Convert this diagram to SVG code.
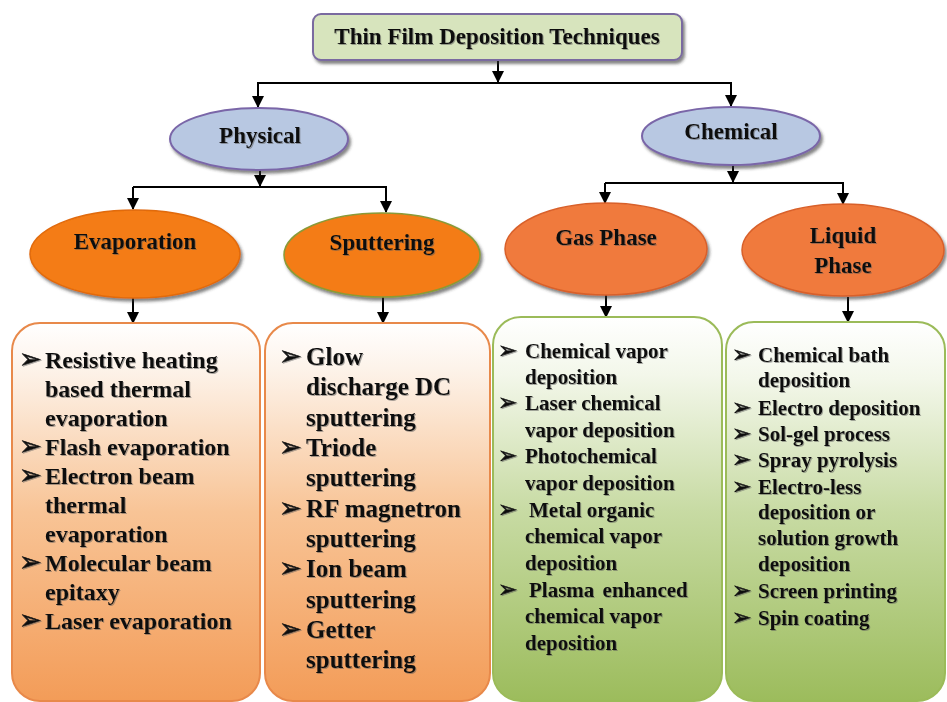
<svg xmlns="http://www.w3.org/2000/svg" width="947" height="702" viewBox="0 0 947 702">
  <defs>
    <marker id="arr" markerUnits="userSpaceOnUse" markerWidth="12" markerHeight="12" refX="11" refY="6" orient="auto">
      <path d="M0,0 L12,6 L0,12 z" fill="#000"/>
    </marker>
    <linearGradient id="gOr" x1="0" y1="0" x2="0" y2="1">
      <stop offset="0" stop-color="#ffffff"/>
      <stop offset="0.12" stop-color="#fdf3ea"/>
      <stop offset="0.5" stop-color="#f8c496"/>
      <stop offset="1" stop-color="#f39c58"/>
    </linearGradient>
    <linearGradient id="gGr" x1="0" y1="0" x2="0" y2="1">
      <stop offset="0" stop-color="#ffffff"/>
      <stop offset="0.15" stop-color="#f3f7ea"/>
      <stop offset="0.5" stop-color="#c8dba4"/>
      <stop offset="1" stop-color="#9cbc5c"/>
    </linearGradient>
    <filter id="sh" x="-10%" y="-10%" width="125%" height="130%">
      <feDropShadow dx="2" dy="3" stdDeviation="1.5" flood-color="#333" flood-opacity="0.6"/>
    </filter>
    <filter id="tsh" x="-5%" y="-20%" width="110%" height="150%">
      <feDropShadow dx="1" dy="1" stdDeviation="0.6" flood-color="#555" flood-opacity="0.5"/>
    </filter>
  </defs>
  <style>
    text { font-family: "Liberation Serif", "Times New Roman", serif; font-weight: bold; fill: #111; }
    .t { font-size: 23px; text-anchor: middle; }
    .e { font-size: 23px; text-anchor: middle; }
    .b1 { font-size: 24px; }
    .b2 { font-size: 25px; }
    .b3 { font-size: 21px; }
    .bul { font-family: "DejaVu Sans", sans-serif; font-weight: bold; stroke: #111; stroke-width: 0.6; }
    .bl { font-size: 27px; }
    .bs { font-size: 23px; }
    .conn { stroke: #000; stroke-width: 2; fill: none; }
    .blue { fill: #b8c8e2; stroke: #7a66a8; stroke-width: 2; }
    .or1 { fill: #f47b12; stroke: #e06a10; stroke-width: 1.5; }
    .or2 { fill: #f47b12; stroke: #8a9a38; stroke-width: 1.5; }
    .or3 { fill: #f07a3c; stroke: #d8602a; stroke-width: 1.5; }
    .boxO { fill: url(#gOr); stroke: #e8894a; stroke-width: 2; }
    .boxG { fill: url(#gGr); stroke: #9bbb59; stroke-width: 2; }
  </style>
  <rect width="947" height="702" fill="#ffffff"/>

  <g id="connectors">
    <line class="conn" x1="498" y1="60" x2="498" y2="82" marker-end="url(#arr)"/>
    <polyline class="conn" points="258,107 258,83 731,83 731,106" marker-end="url(#arr)"/>
    <line class="conn" x1="258" y1="100" x2="258" y2="107" marker-end="url(#arr)"/>
    <line class="conn" x1="260" y1="170" x2="260" y2="186" marker-end="url(#arr)"/>
    <polyline class="conn" points="133,187 386,187 386,212" marker-end="url(#arr)"/>
    <line class="conn" x1="133" y1="187" x2="133" y2="209" marker-end="url(#arr)"/>
    <line class="conn" x1="133" y1="298" x2="133" y2="323" marker-end="url(#arr)"/>
    <line class="conn" x1="383" y1="297" x2="383" y2="323" marker-end="url(#arr)"/>
    <line class="conn" x1="733" y1="165" x2="733" y2="182" marker-end="url(#arr)"/>
    <polyline class="conn" points="605,183 843,183 843,204" marker-end="url(#arr)"/>
    <line class="conn" x1="605" y1="183" x2="605" y2="203" marker-end="url(#arr)"/>
    <line class="conn" x1="606" y1="295" x2="606" y2="317" marker-end="url(#arr)"/>
    <line class="conn" x1="848" y1="297" x2="848" y2="322" marker-end="url(#arr)"/>
  </g>

  <g id="title">
    <rect x="313" y="14" width="369" height="46" rx="8" fill="#d7e4bd" stroke="#7a6aa0" stroke-width="2" filter="url(#sh)"/>
    <text class="t" x="497" y="44" filter="url(#tsh)">Thin Film Deposition Techniques</text>
  </g>

  <g id="physical">
    <ellipse class="blue" cx="259" cy="139" rx="89" ry="31" filter="url(#sh)"/>
    <text class="e" x="260" y="143" font-size="20" filter="url(#tsh)">Physical</text>
  </g>

  <g id="chemical">
    <ellipse class="blue" cx="731" cy="136" rx="89" ry="29" filter="url(#sh)"/>
    <text class="e" x="731" y="139" font-size="22" filter="url(#tsh)">Chemical</text>
  </g>

  <g id="evaporation">
    <ellipse class="or1" cx="135" cy="254" rx="105" ry="44" filter="url(#sh)"/>
    <text class="e" x="135" y="249" filter="url(#tsh)">Evaporation</text>
  </g>

  <g id="sputtering">
    <ellipse class="or2" cx="382" cy="255" rx="98" ry="42" filter="url(#sh)"/>
    <text class="e" x="382" y="250" filter="url(#tsh)">Sputtering</text>
  </g>

  <g id="gas-phase">
    <ellipse class="or3" cx="606" cy="249" rx="101" ry="46" filter="url(#sh)"/>
    <text class="e" x="606" y="245" filter="url(#tsh)">Gas Phase</text>
  </g>

  <g id="liquid-phase">
    <ellipse class="or3" cx="843" cy="250" rx="101" ry="46" filter="url(#sh)"/>
    <text class="e" x="843" y="243" filter="url(#tsh)">Liquid</text>
    <text class="e" x="843" y="273" filter="url(#tsh)">Phase</text>
  </g>

  <g id="evaporation-list">
    <rect class="boxO" x="12" y="323" width="248" height="378" rx="28"/>
    <g class="b1" filter="url(#tsh)">
      <text class="bul bl" x="19" y="368">➢</text>
      <text x="45" y="368">Resistive heating</text>
      <text x="45" y="397">based thermal</text>
      <text x="45" y="426">evaporation</text>
      <text class="bul bl" x="19" y="455">➢</text>
      <text x="45" y="455">Flash evaporation</text>
      <text class="bul bl" x="19" y="484">➢</text>
      <text x="45" y="484">Electron beam</text>
      <text x="45" y="513">thermal</text>
      <text x="45" y="542">evaporation</text>
      <text class="bul bl" x="19" y="571">➢</text>
      <text x="45" y="571">Molecular beam</text>
      <text x="45" y="600">epitaxy</text>
      <text class="bul bl" x="19" y="629">➢</text>
      <text x="45" y="629">Laser evaporation</text>
    </g>
  </g>

  <g id="sputtering-list">
    <rect class="boxO" x="265" y="323" width="225" height="378" rx="28"/>
    <g class="b2" filter="url(#tsh)">
      <text class="bul bl" x="279" y="365">➢</text>
      <text x="306" y="365">Glow</text>
      <text x="306" y="395">discharge DC</text>
      <text x="306" y="426">sputtering</text>
      <text class="bul bl" x="279" y="456">➢</text>
      <text x="306" y="456">Triode</text>
      <text x="306" y="486">sputtering</text>
      <text class="bul bl" x="279" y="517">➢</text>
      <text x="306" y="517">RF magnetron</text>
      <text x="306" y="547">sputtering</text>
      <text class="bul bl" x="279" y="577">➢</text>
      <text x="306" y="577">Ion beam</text>
      <text x="306" y="608">sputtering</text>
      <text class="bul bl" x="279" y="638">➢</text>
      <text x="306" y="638">Getter</text>
      <text x="306" y="668">sputtering</text>
    </g>
  </g>

  <g id="gas-phase-list">
    <rect class="boxG" x="493" y="317" width="229" height="384" rx="28"/>
    <g class="b3" filter="url(#tsh)">
      <text class="bul bs" x="498" y="358">➢</text>
      <text x="525" y="358">Chemical vapor</text>
      <text x="525" y="384">deposition</text>
      <text class="bul bs" x="498" y="410">➢</text>
      <text x="525" y="410">Laser chemical</text>
      <text x="525" y="437">vapor deposition</text>
      <text class="bul bs" x="498" y="463">➢</text>
      <text x="525" y="463">Photochemical</text>
      <text x="525" y="490">vapor deposition</text>
      <text class="bul bs" x="498" y="517">➢</text>
      <text x="529" y="517">Metal organic</text>
      <text x="525" y="543">chemical vapor</text>
      <text x="525" y="570">deposition</text>
      <text class="bul bs" x="498" y="597">➢</text>
      <text x="529" y="597" word-spacing="3">Plasma enhanced</text>
      <text x="525" y="623">chemical vapor</text>
      <text x="525" y="650">deposition</text>
    </g>
  </g>

  <g id="liquid-phase-list">
    <rect class="boxG" x="726" y="322" width="219" height="379" rx="28"/>
    <g class="b3" filter="url(#tsh)">
      <text class="bul bs" x="732" y="362">➢</text>
      <text x="758" y="362">Chemical bath</text>
      <text x="758" y="387">deposition</text>
      <text class="bul bs" x="732" y="415">➢</text>
      <text x="758" y="415">Electro deposition</text>
      <text class="bul bs" x="732" y="441">➢</text>
      <text x="758" y="441">Sol-gel process</text>
      <text class="bul bs" x="732" y="467">➢</text>
      <text x="758" y="467">Spray pyrolysis</text>
      <text class="bul bs" x="732" y="494">➢</text>
      <text x="758" y="494">Electro-less</text>
      <text x="758" y="519">deposition or</text>
      <text x="758" y="545">solution growth</text>
      <text x="758" y="571">deposition</text>
      <text class="bul bs" x="732" y="598">➢</text>
      <text x="758" y="598">Screen printing</text>
      <text class="bul bs" x="732" y="625">➢</text>
      <text x="758" y="625">Spin coating</text>
    </g>
  </g>
</svg>
